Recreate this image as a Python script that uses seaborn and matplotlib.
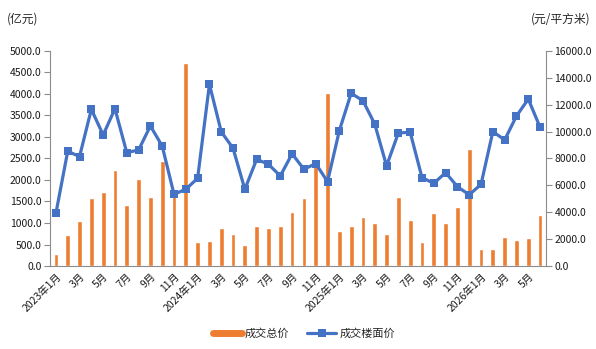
import numpy as np
import pandas as pd
import matplotlib
matplotlib.use('Agg')
import matplotlib.pyplot as plt
from matplotlib.lines import Line2D
import seaborn as sns

months = ['2023-01', '2023-02', '2023-03', '2023-04', '2023-05', '2023-06',
          '2023-07', '2023-08', '2023-09', '2023-10', '2023-11', '2023-12',
          '2024-01', '2024-02', '2024-03', '2024-04', '2024-05', '2024-06',
          '2024-07', '2024-08', '2024-09', '2024-10', '2024-11', '2024-12',
          '2025-01', '2025-02', '2025-03', '2025-04', '2025-05', '2025-06',
          '2025-07', '2025-08', '2025-09', '2025-10', '2025-11', '2025-12',
          '2026-01', '2026-02', '2026-03', '2026-04', '2026-05', '2026-06']

# 成交总价 (亿元)
total_price = [280, 723, 1050, 1590, 1726, 2240, 1423, 2030, 1610, 2450, 1680, 4730,
               560, 583, 886, 746, 490, 933, 886, 933, 1265, 1570, 2350, 4030,
               820, 937, 1148, 1008, 750, 1594, 1062, 562, 1242, 1008, 1383, 2719,
               406, 406, 680, 609, 640, 1180]

# 成交楼面价 (元/平方米)
floor_price = [3920, 8540, 8140, 11660, 9750, 11700, 8440, 8630, 10420, 8930, 5340, 5710,
               6530, 13520, 9990, 8760, 5710, 7940, 7570, 6700, 8350, 7200, 7620, 6280,
               10070, 12850, 12300, 10560, 7450, 9900, 9950, 6580, 6150, 6950, 5900, 5300,
               6080, 10000, 9380, 11160, 12420, 10320]

tick_labels = ['2023年1月', '3月', '5月', '7月', '9月', '11月',
               '2024年1月', '3月', '5月', '7月', '9月', '11月',
               '2025年1月', '3月', '5月', '7月', '9月', '11月',
               '2026年1月', '3月', '5月']

df = pd.DataFrame({'month': months, 'total': total_price, 'floor': floor_price})
df['pos'] = np.arange(len(df))

sns.set_style('white')
plt.rcParams['font.family'] = ['Noto Sans CJK SC', 'DejaVu Sans']
plt.rcParams['font.size'] = 7.5

orange = '#ED7D31'
blue = '#4472C4'
grey = '#8C8C8C'

fig = plt.figure(figsize=(5.96, 3.49), dpi=100)
ax = fig.add_axes([0.0839, 0.2378, 0.8322, 0.6162])
ax2 = ax.twinx()

sns.barplot(data=df, x='month', y='total', order=months, color=orange,
            width=0.4, saturation=1, ax=ax, zorder=2)
sns.lineplot(data=df, x='pos', y='floor', color=blue, lw=2.3, marker='s',
             markersize=5.2, markeredgewidth=0, ax=ax2, zorder=3)

ax.set_ylim(0, 5000)
ax.set_yticks(np.arange(0, 5001, 500))
ax.set_yticklabels([f'{v:.1f}' for v in np.arange(0, 5001, 500)])
ax2.set_ylim(0, 16000)
ax2.set_yticks(np.arange(0, 16001, 2000))
ax2.set_yticklabels([f'{v:.1f}' for v in np.arange(0, 16001, 2000)])

ax.set_xlim(-0.5, len(months) - 0.5)
ax.set_xticks(np.arange(0, len(months), 2))
ax.set_xticklabels(tick_labels, rotation=45, ha='right', rotation_mode='anchor')
ax.set_xticks(np.arange(-0.5, len(months), 1), minor=True)
ax.tick_params(axis='x', which='major', length=0, pad=4)
ax.tick_params(axis='x', which='minor', length=4, color=grey, width=0.8)
ax.tick_params(axis='y', length=4, color=grey, width=0.8, pad=2, left=True)
ax2.tick_params(axis='y', length=4, color=grey, width=0.8, pad=2, right=True)

for a in (ax, ax2):
    a.set_xlabel('')
    a.set_ylabel('')
    a.spines['top'].set_visible(False)
    for s in ('left', 'right', 'bottom'):
        a.spines[s].set_color(grey)
        a.spines[s].set_linewidth(0.8)
    a.tick_params(labelcolor='#1a1a1a')
ax.spines['right'].set_visible(False)
ax2.spines['left'].set_visible(False)
ax2.spines['bottom'].set_visible(False)
ax2.patch.set_visible(False)

fig.text(0.012, 0.965, '(亿元)', fontsize=8.5, va='top', ha='left')
fig.text(0.99, 0.965, '(元/平方米)', fontsize=8.5, va='top', ha='right')

handles = [Line2D([], [], color=orange, lw=5),
           Line2D([], [], color=blue, lw=2.3, marker='s', markersize=5.2, markeredgewidth=0)]
fig.legend(handles, ['成交总价', '成交楼面价'], loc='lower center',
           bbox_to_anchor=(0.51, 0.0), ncol=2, frameon=False, fontsize=8,
           handlelength=2.6, columnspacing=1.6, handletextpad=0.3)

fig.savefig('out.png', dpi=100)
